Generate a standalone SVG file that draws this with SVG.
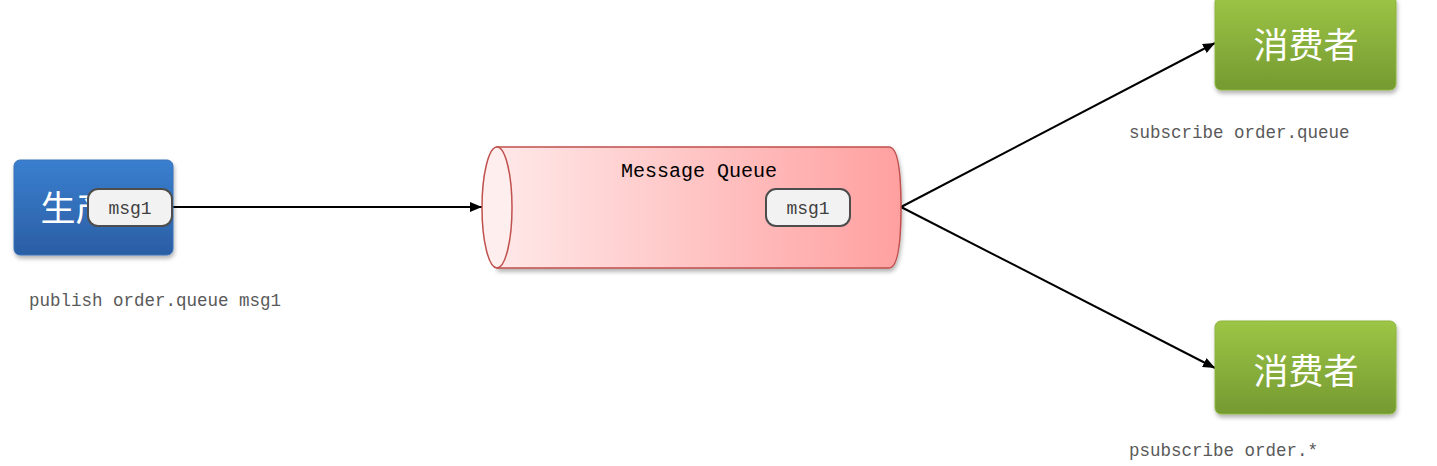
<svg xmlns="http://www.w3.org/2000/svg" width="1437" height="466" viewBox="0 0 1437 466">
<style>
.cjk{font-family:"Noto Sans CJK SC","Noto Sans CJK JP",sans-serif;font-size:35px;fill:#fff;text-anchor:middle}
.mono{font-family:"Liberation Mono","DejaVu Sans Mono",monospace;font-size:17.5px;fill:#595959}
.msgbox{fill:#f2f2f2;stroke:#4d4d4d;stroke-width:2}
.msgtxt{font-family:"Liberation Mono",monospace;font-size:18px;fill:#404040;text-anchor:middle}
.edge{stroke:#000;stroke-width:2;fill:none;marker-end:url(#arr)}
</style>
<defs>
<linearGradient id="blue" x1="0" y1="0" x2="0" y2="1"><stop offset="0" stop-color="#3a7fcf"/><stop offset="1" stop-color="#2b5ea4"/></linearGradient>
<linearGradient id="green" x1="0" y1="0" x2="0" y2="1"><stop offset="0" stop-color="#9dc545"/><stop offset="1" stop-color="#749a31"/></linearGradient>
<linearGradient id="red" x1="0" y1="0" x2="1" y2="0"><stop offset="0" stop-color="#ffe8e8"/><stop offset="1" stop-color="#ffa0a0"/></linearGradient>
<filter id="sh" x="-10%" y="-10%" width="130%" height="130%"><feDropShadow dx="1" dy="3" stdDeviation="2" flood-color="#000" flood-opacity="0.3"/></filter>
<marker id="arr" viewBox="0 0 12 10" refX="12" refY="5" markerWidth="12" markerHeight="10" markerUnits="userSpaceOnUse" orient="auto"><path d="M0,0 L12,5 L0,10 z" fill="#000"/></marker>
</defs>
<g id="connectors">
<line class="edge" x1="172" y1="207" x2="482" y2="207"/>
<line class="edge" x1="901" y1="207" x2="1215" y2="43"/>
<line class="edge" x1="901" y1="207" x2="1215" y2="368"/>
</g>
<g id="producer">
<rect x="14" y="160" width="159" height="95" rx="6" fill="url(#blue)" stroke="#3a72b8" filter="url(#sh)"/>
<text class="cjk" x="93" y="221">生产者</text>
<rect class="msgbox" x="88" y="189" width="84" height="37" rx="10"/>
<text class="msgtxt" x="130" y="214">msg1</text>
</g>
<g id="queue">
<path d="M497,147 H889 Q901,147 901,207 Q901,268 889,268 H497 Z" fill="url(#red)" stroke="#c0504d" stroke-width="1.5" filter="url(#sh)"/>
<ellipse cx="497" cy="207.5" rx="15" ry="60.5" fill="#ffeeee" stroke="#c0504d" stroke-width="1.5"/>
<text x="699" y="177" font-family="Liberation Mono,monospace" font-size="20" fill="#000" text-anchor="middle">Message Queue</text>
<rect class="msgbox" x="766" y="189" width="84" height="37" rx="10"/>
<text class="msgtxt" x="808" y="214">msg1</text>
</g>
<g id="consumer1">
<rect x="1215" y="-4" width="181" height="94" rx="6" fill="url(#green)" stroke="#8db53c" filter="url(#sh)"/>
<text class="cjk" x="1306" y="58">消费者</text>
</g>
<g id="consumer2">
<rect x="1215" y="321" width="181" height="93" rx="6" fill="url(#green)" stroke="#8db53c" filter="url(#sh)"/>
<text class="cjk" x="1306" y="384">消费者</text>
</g>
<g id="labels">
<text class="mono" x="29" y="306">publish order.queue msg1</text>
<text class="mono" x="1129" y="138">subscribe order.queue</text>
<text class="mono" x="1129" y="456">psubscribe order.*</text>
</g>
</svg>
